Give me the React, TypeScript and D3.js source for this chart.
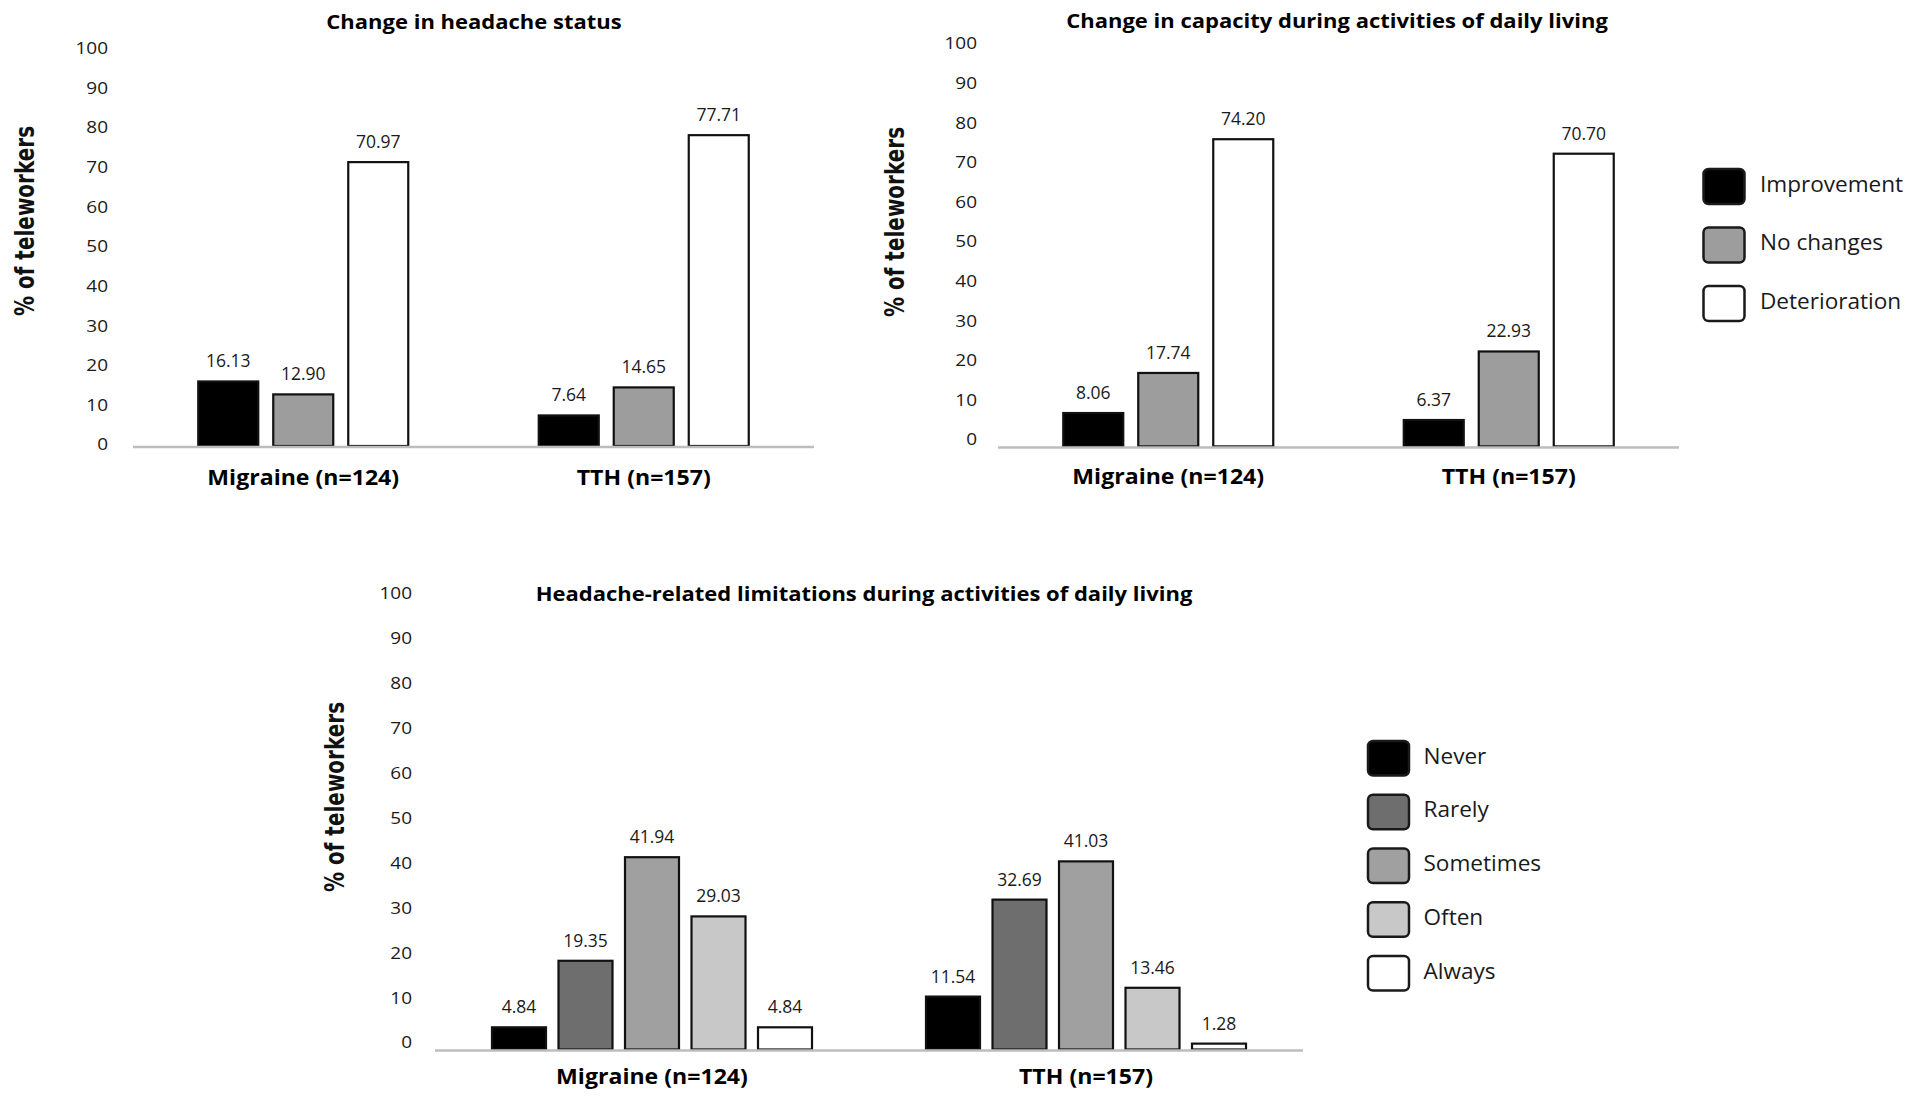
import * as d3 from "d3";

const groups = ["Migraine (n=124)", "TTH (n=157)"];
const yTicks = [0, 10, 20, 30, 40, 50, 60, 70, 80, 90, 100];

// panels 1 and 2: change after starting telework
const changeSeries = ["Improvement", "No changes", "Deterioration"];
const changeColors = ["#000000", "#9d9d9d", "#ffffff"];
const statusMigraine = [16.13, 12.9, 70.97];
const statusTTH = [7.64, 14.65, 77.71];
const capacityMigraine = [8.06, 17.74, 74.2];
const capacityTTH = [6.37, 22.93, 70.7];

// panel 3: frequency of limitations
const freqSeries = ["Never", "Rarely", "Sometimes", "Often", "Always"];
const freqColors = ["#000000", "#6e6e6e", "#a0a0a0", "#c8c8c8", "#ffffff"];
const limitsMigraine = [4.84, 19.35, 41.94, 29.03, 4.84];
const limitsTTH = [11.54, 32.69, 41.03, 13.46, 1.28];

const SANS = "'Open Sans', 'Noto Sans', sans-serif";
const HEAVY = "'DejaVu Sans', Verdana, sans-serif";

function Txt({ x, y, sx = 1, size, weight = 400, anchor = "middle", family = SANS, fill = "#1a1a1a", children }: any) {
  return (
    <text
      transform={`translate(${x},${y}) scale(${sx},1)`}
      fontSize={size}
      fontWeight={weight}
      textAnchor={anchor}
      fontFamily={family}
      fill={fill}
      dominantBaseline="central"
    >
      {children}
    </text>
  );
}

function Panel({ cfg, title, series, colors, values, legend }: any) {
  const x0 = d3.scaleBand<string>().domain(groups).range([cfg.x0, cfg.x1]);
  const x1 = d3
    .scaleBand<string>()
    .domain(series)
    .range([0, x0.bandwidth()])
    .paddingInner(cfg.padIn)
    .paddingOuter(cfg.padOut);
  const yBar = d3.scaleLinear().domain([0, 100]).range(cfg.bar);
  const yTick = d3.scaleLinear().domain([0, 100]).range(cfg.tick);
  const color = d3.scaleOrdinal<string, string>().domain(series).range(colors);

  return (
    <g>
      <Txt x={cfg.titleX} y={cfg.titleY} size={20} weight={700} sx={1.1} fill="#000">
        {title}
      </Txt>
      <text
        transform={`translate(${cfg.axX},${cfg.axY}) rotate(-90) scale(1,1.3)`}
        fontSize={20}
        fontWeight={700}
        fontFamily={HEAVY}
        textAnchor="middle"
        dominantBaseline="central"
        fill="#111"
      >
        % of teleworkers
      </text>
      {yTicks.map((t) => (
        <Txt key={t} x={cfg.tickX} y={yTick(t)} size={16.5} sx={1.15} anchor="end">
          {t}
        </Txt>
      ))}
      {groups.map((g, gi) => (
        <g key={g}>
          {series.map((s: string, si: number) => {
            const v = values[gi][si];
            const bx = (x0(g) ?? 0) + (x1(s) ?? 0);
            return (
              <g key={s}>
                <rect
                  x={bx}
                  y={yBar(v)}
                  width={x1.bandwidth()}
                  height={yBar(0) - yBar(v)}
                  fill={color(s)}
                  stroke="#111"
                  strokeWidth={2.2}
                />
                <Txt x={bx + x1.bandwidth() / 2} y={yBar(v) - 21} size={17.5}>
                  {v.toFixed(2)}
                </Txt>
              </g>
            );
          })}
          <Txt x={(x0(g) ?? 0) + x0.bandwidth() / 2} y={cfg.groupY} size={22} weight={700} sx={1.05} fill="#000">
            {g}
          </Txt>
        </g>
      ))}
      <line x1={cfg.x0} x2={cfg.x1} y1={yBar(0) + 1} y2={yBar(0) + 1} stroke="#bdbdbd" strokeWidth={2.5} />
      {legend &&
        series.map((s: string, i: number) => {
          const ly = legend.y + i * legend.step;
          return (
            <g key={s}>
              <rect
                x={legend.x}
                y={ly}
                width={legend.w}
                height={legend.h}
                rx={5}
                fill={color(s)}
                stroke="#1a1a1a"
                strokeWidth={2.5}
              />
              <Txt x={legend.x + legend.tx} y={ly + legend.h / 2 - 3.5} size={21.5} sx={1.05} anchor="start">
                {s}
              </Txt>
            </g>
          );
        })}
    </g>
  );
}

const p1 = {
  x0: 133, x1: 814, bar: [446, 46], tick: [444, 47.4], tickX: 108,
  titleX: 474, titleY: 21, axX: 24, axY: 221, groupY: 477, padIn: 0.2, padOut: 0.87,
};
const p2 = {
  x0: 998, x1: 1679, bar: [446.4, 32.4], tick: [439, 43], tickX: 977,
  titleX: 1337, titleY: 20, axX: 894, axY: 222, groupY: 476, padIn: 0.2, padOut: 0.87,
};
const p3 = {
  x0: 435, x1: 1303, bar: [1049.5, 591], tick: [1042, 593], tickX: 412,
  titleX: 864, titleY: 593, axX: 334, axY: 797, groupY: 1076, padIn: 0.188, padOut: 0.857,
};

export default function App() {
  return (
    <div style={{ position: "fixed", left: 0, top: 0, background: "#fff" }}>
      <svg width={1908} height={1103} viewBox="0 0 1908 1103">
        <rect width={1908} height={1103} fill="#fff" />
        <Panel
          cfg={p1}
          title="Change in headache status"
          series={changeSeries}
          colors={changeColors}
          values={[statusMigraine, statusTTH]}
        />
        <Panel
          cfg={p2}
          title="Change in capacity during activities of daily living"
          series={changeSeries}
          colors={changeColors}
          values={[capacityMigraine, capacityTTH]}
          legend={{ x: 1703.5, y: 169, step: 58.5, w: 41, h: 35, tx: 56.5 }}
        />
        <Panel
          cfg={p3}
          title="Headache-related limitations during activities of daily living"
          series={freqSeries}
          colors={freqColors}
          values={[limitsMigraine, limitsTTH]}
          legend={{ x: 1368, y: 741, step: 53.75, w: 41, h: 34.5, tx: 55.5 }}
        />
      </svg>
    </div>
  );
}
